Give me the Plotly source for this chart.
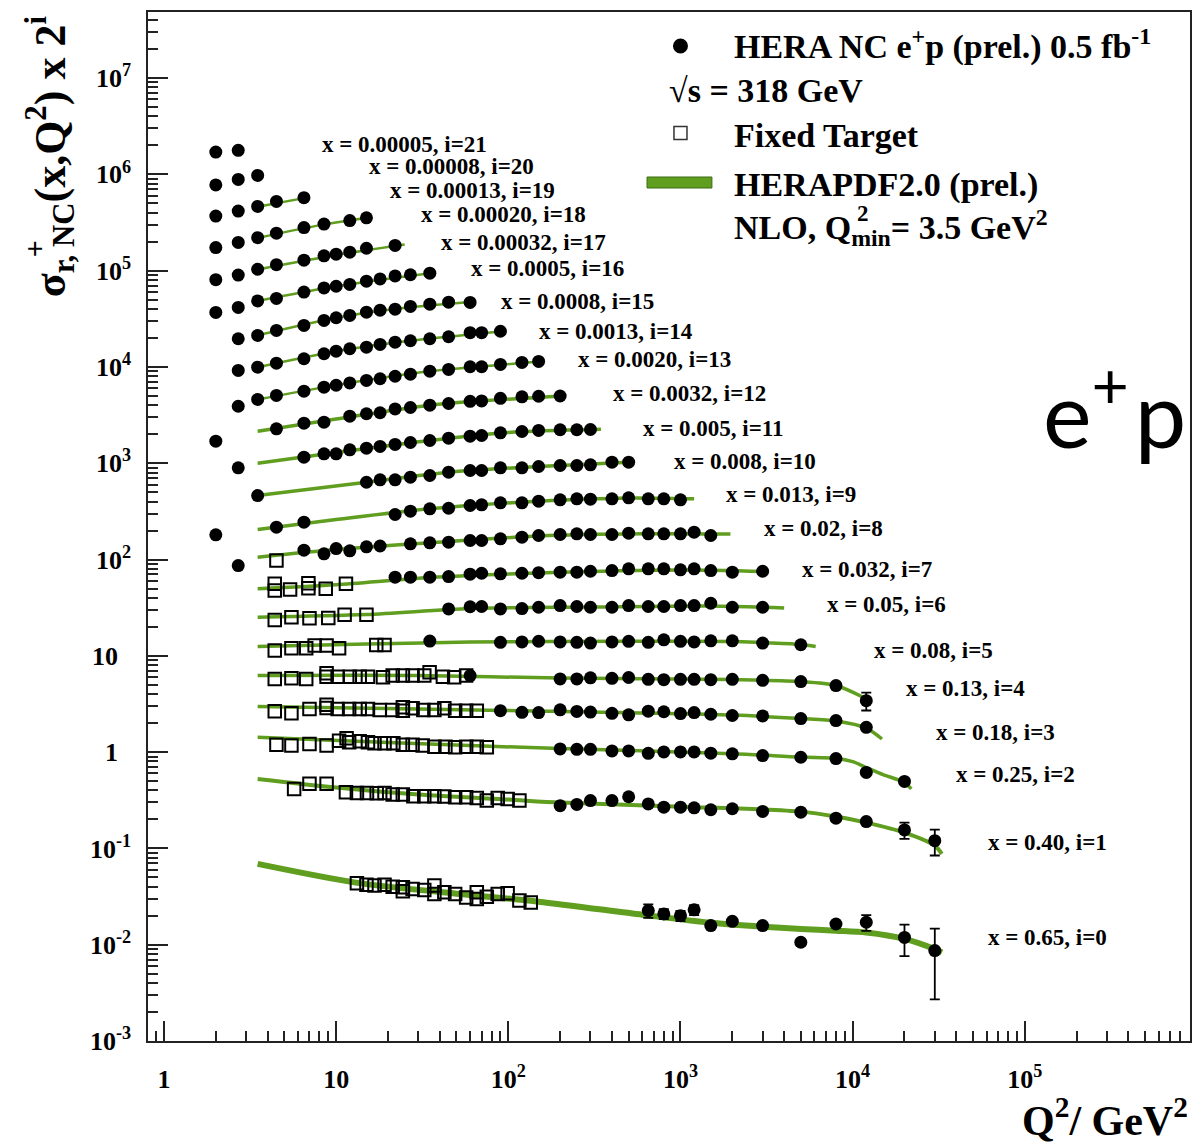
import plotly.graph_objects as go

# ---------------------------------------------------------------------------
# HERA NC e+p reduced cross sections, bin i is scaled by 2**i
# ---------------------------------------------------------------------------
x_bins = ["0.65", "0.40", "0.25", "0.18", "0.13", "0.08", "0.05", "0.032",
          "0.02", "0.013", "0.008", "0.005", "0.0032", "0.0020", "0.0013",
          "0.0008", "0.0005", "0.00032", "0.00020", "0.00013", "0.00008",
          "0.00005"]

# HERA combined data (Q2 in GeV^2, unscaled sigma_r), index = i
hera_q2 = [
    [650, 800, 1000, 1200, 1500, 2000, 3000, 5000, 8000, 12000, 20000, 30000],
    [200, 250, 300, 400, 500, 650, 800, 1000, 1200, 1500, 2000, 3000, 5000, 8000, 12000, 20000, 30000],
    [200, 250, 300, 400, 500, 650, 800, 1000, 1200, 1500, 2000, 3000, 5000, 8000, 12000, 20000],
    [90, 120, 150, 200, 250, 300, 400, 500, 650, 800, 1000, 1200, 1500, 2000, 3000, 5000, 8000, 12000],
    [60, 200, 250, 300, 400, 500, 650, 800, 1000, 1200, 1500, 2000, 3000, 5000, 8000, 12000],
    [35, 90, 120, 150, 200, 250, 300, 400, 500, 650, 800, 1000, 1200, 1500, 2000, 3000, 5000],
    [45, 60, 70, 90, 120, 150, 200, 250, 300, 400, 500, 650, 800, 1000, 1200, 1500, 2000, 3000],
    [22, 27, 35, 45, 60, 70, 90, 120, 150, 200, 250, 300, 400, 500, 650, 800, 1000, 1200, 1500, 2000, 3000],
    [2.7, 6.5, 8.5, 10, 12, 15, 18, 27, 35, 45, 60, 70, 90, 120, 150, 200, 250, 300, 400, 500, 650, 800, 1000, 1200, 1500],
    [2, 4.5, 6.5, 22, 27, 35, 45, 60, 70, 90, 120, 150, 200, 250, 300, 400, 500, 650, 800, 1000],
    [3.5, 15, 18, 22, 27, 35, 45, 60, 70, 90, 120, 150, 200, 250, 300, 400, 500],
    [2.7, 6.5, 8.5, 10, 12, 15, 18, 22, 27, 35, 45, 60, 70, 90, 120, 150, 200, 250, 300],
    [2, 4.5, 6.5, 8.5, 12, 15, 18, 22, 27, 35, 45, 60, 70, 90, 120, 150, 200],
    [2.7, 3.5, 4.5, 6.5, 8.5, 10, 12, 15, 18, 22, 27, 35, 45, 60, 70, 90, 120, 150],
    [2.7, 3.5, 4.5, 6.5, 8.5, 10, 12, 15, 18, 22, 27, 35, 45, 60, 70, 90],
    [2.7, 3.5, 4.5, 6.5, 8.5, 10, 12, 15, 18, 22, 27, 35, 45, 60],
    [2, 2.7, 3.5, 4.5, 6.5, 8.5, 10, 12, 15, 18, 22, 27, 35],
    [2, 2.7, 3.5, 4.5, 6.5, 8.5, 10, 12, 15, 22],
    [2, 2.7, 3.5, 4.5, 6.5, 8.5, 12, 15],
    [2, 2.7, 3.5, 4.5, 6.5],
    [2, 2.7, 3.5],
    [2, 2.7],
]
hera_sigma = [
    [0.0226, 0.0209, 0.0200, 0.0230, 0.0158, 0.0175, 0.0158, 0.0106, 0.0164, 0.0171, 0.0119, 0.0087],
    [0.139, 0.143, 0.157, 0.157, 0.172, 0.145, 0.134, 0.134, 0.132, 0.126, 0.129, 0.121, 0.119, 0.103, 0.0949, 0.0778, 0.0602],
    [0.270, 0.267, 0.267, 0.257, 0.257, 0.243, 0.251, 0.251, 0.251, 0.244, 0.240, 0.230, 0.221, 0.214, 0.154, 0.124],
    [0.337, 0.324, 0.322, 0.344, 0.331, 0.326, 0.316, 0.305, 0.333, 0.328, 0.314, 0.322, 0.309, 0.300, 0.297, 0.279, 0.266, 0.226],
    [0.390, 0.360, 0.360, 0.369, 0.365, 0.372, 0.356, 0.353, 0.356, 0.356, 0.353, 0.356, 0.348, 0.338, 0.307, 0.214],
    [0.445, 0.432, 0.436, 0.443, 0.436, 0.432, 0.424, 0.436, 0.442, 0.432, 0.458, 0.442, 0.436, 0.447, 0.447, 0.424, 0.407],
    [0.480, 0.505, 0.508, 0.480, 0.484, 0.499, 0.520, 0.508, 0.499, 0.499, 0.520, 0.508, 0.508, 0.520, 0.520, 0.549, 0.499, 0.499],
    [0.512, 0.512, 0.512, 0.520, 0.550, 0.563, 0.555, 0.563, 0.570, 0.577, 0.577, 0.590, 0.600, 0.625, 0.625, 0.625, 0.611, 0.625, 0.600, 0.577, 0.590],
    [0.338, 0.488, 0.448, 0.508, 0.481, 0.529, 0.540, 0.569, 0.582, 0.591, 0.616, 0.616, 0.641, 0.666, 0.694, 0.711, 0.722, 0.711, 0.711, 0.733, 0.722, 0.722, 0.722, 0.751, 0.694],
    [0.353, 0.423, 0.477, 0.573, 0.620, 0.657, 0.666, 0.711, 0.723, 0.758, 0.758, 0.788, 0.815, 0.834, 0.826, 0.834, 0.855, 0.834, 0.834, 0.815],
    [0.451, 0.620, 0.657, 0.657, 0.699, 0.728, 0.788, 0.821, 0.821, 0.876, 0.876, 0.903, 0.925, 0.925, 0.941, 1.001, 1.001],
    [0.438, 0.564, 0.612, 0.612, 0.673, 0.700, 0.729, 0.765, 0.802, 0.841, 0.889, 0.932, 0.948, 1.011, 1.043, 1.069, 1.087, 1.087, 1.094],
    [0.414, 0.556, 0.636, 0.652, 0.752, 0.797, 0.816, 0.894, 0.926, 0.979, 1.019, 1.074, 1.082, 1.154, 1.196, 1.211, 1.219],
    [0.477, 0.561, 0.617, 0.684, 0.753, 0.788, 0.832, 0.884, 0.920, 0.977, 1.027, 1.104, 1.149, 1.226, 1.226, 1.296, 1.359, 1.392],
    [0.561, 0.607, 0.668, 0.742, 0.837, 0.890, 0.943, 0.980, 1.045, 1.104, 1.142, 1.198, 1.256, 1.386, 1.386, 1.433],
    [0.599, 0.648, 0.730, 0.823, 0.928, 0.989, 1.045, 1.131, 1.187, 1.216, 1.297, 1.370, 1.437, 1.427],
    [0.562, 0.633, 0.740, 0.785, 0.913, 1.009, 1.051, 1.097, 1.185, 1.252, 1.345, 1.384, 1.438],
    [0.615, 0.686, 0.789, 0.881, 0.981, 1.088, 1.130, 1.188, 1.304, 1.394],
    [0.662, 0.749, 0.840, 0.934, 1.068, 1.161, 1.262, 1.350],
    [0.703, 0.792, 0.886, 0.999, 1.091],
    [0.741, 0.845, 0.930],
    [0.812, 0.846],
]

# Points with a visible uncertainty: bin index, Q2, error on sigma_r
err_bin = [0, 0, 0, 0, 0, 0, 0, 0, 1, 1, 4]
err_q2 = [650, 800, 1000, 1200, 5000, 12000, 20000, 30000, 20000, 30000, 12000]
err_sigma = [0.0036, 0.0025, 0.0024, 0.0027, 0.0008, 0.0032, 0.0043, 0.0060, 0.015, 0.018, 0.045]

# Fixed-target data (unscaled sigma_r), index = i
ft_q2 = [
    [13.2, 15.0, 16.7, 19.1, 21.3, 24.4, 24.4, 27.8, 32.5, 37.2, 37.2, 42.5, 49.1, 56.9, 65.6, 65.6, 75.0, 86.8, 99.1, 116, 135],
    [5.7, 7.0, 8.8, 11.4, 13.2, 15.1, 17.2, 19.1, 21.3, 24.4, 28.1, 32.5, 37.2, 42.5, 49.1, 56.9, 65.6, 75.0, 86.8, 99.1, 116],
    [4.5, 5.5, 7.0, 8.8, 10.4, 11.5, 11.9, 13.7, 15.3, 16.7, 19.1, 21.5, 24.4, 27.8, 31.8, 37.2, 43.1, 49.1, 56.9, 65.6, 75.0],
    [4.4, 5.5, 7.0, 8.8, 8.8, 10.2, 11.9, 13.7, 15.3, 17.9, 21.2, 24.4, 24.4, 27.8, 32.1, 37.2, 42.5, 49.1, 56.9, 65.6],
    [4.4, 5.5, 6.7, 8.8, 8.8, 10.2, 12.0, 13.7, 15.3, 18.7, 21.3, 24.4, 27.8, 32.5, 34.9, 41.7, 48.5, 56.9],
    [4.4, 5.5, 6.7, 7.5, 8.8, 10.4, 17.1, 19.1],
    [4.4, 5.5, 7.0, 9.0, 11.2, 15.0],
    [4.4, 4.4, 5.4, 6.9, 6.9, 8.7, 11.4],
    [4.5],
]
ft_sigma = [
    [0.0434, 0.0420, 0.0411, 0.0420, 0.0401, 0.0394, 0.0358, 0.0379, 0.0370, 0.0411, 0.0337, 0.0350, 0.0337, 0.0310, 0.0350, 0.0299, 0.0315, 0.0337, 0.0342, 0.0287, 0.0275],
    [0.207, 0.234, 0.234, 0.191, 0.188, 0.188, 0.187, 0.188, 0.181, 0.181, 0.174, 0.174, 0.174, 0.173, 0.170, 0.170, 0.167, 0.157, 0.167, 0.163, 0.157],
    [0.299, 0.292, 0.304, 0.292, 0.329, 0.348, 0.316, 0.324, 0.316, 0.309, 0.309, 0.309, 0.299, 0.299, 0.292, 0.285, 0.285, 0.281, 0.285, 0.285, 0.281],
    [0.332, 0.316, 0.351, 0.360, 0.387, 0.351, 0.351, 0.351, 0.351, 0.343, 0.343, 0.337, 0.365, 0.357, 0.343, 0.343, 0.357, 0.337, 0.337, 0.337],
    [0.360, 0.365, 0.360, 0.380, 0.412, 0.380, 0.380, 0.380, 0.380, 0.374, 0.390, 0.390, 0.390, 0.390, 0.422, 0.380, 0.374, 0.390],
    [0.354, 0.374, 0.374, 0.399, 0.399, 0.374, 0.406, 0.406],
    [0.369, 0.393, 0.384, 0.387, 0.416, 0.416],
    [0.437, 0.372, 0.381, 0.443, 0.393, 0.388, 0.437],
    [0.381],
]

# HERAPDF2.0 NLO prediction (unscaled sigma_r) sampled along Q2, index = i
curve_q2 = [
    [3.5, 13, 50, 150, 600, 1500, 3000, 5000, 8000, 12000, 20000, 30000, 33000],
    [3.5, 10, 30, 100, 200, 1000, 5000, 8000, 12000, 20000, 30000, 32950],
    [3.5, 20, 200, 2000, 5000, 8000, 10000, 12000, 15000, 20000, 21900],
    [3.5, 30, 300, 2000, 5000, 8000, 12000, 14800],
    [3.5, 30, 200, 2000, 5000, 8000, 11500],
    [3.5, 15, 60, 500, 2000, 3000, 5000, 6100],
    [3.5, 15, 60, 300, 1500, 4000],
    [3.5, 10, 35, 150, 1000, 3150],
    [3.5, 10, 35, 150, 600, 1950],
    [3.5, 10, 35, 150, 500, 1200],
    [3.5, 15, 45, 150, 535],
    [3.5, 10, 35, 100, 345],
    [3.5, 10, 35, 210],
    [3.5, 10, 35, 155],
    [3.5, 10, 27, 95],
    [3.5, 10, 22, 62],
    [3.5, 10, 38],
    [3.5, 10, 25],
    [3.5, 8.5, 15],
    [3.5, 6.5],
    [],
    [],
]
curve_sigma = [
    [0.0690, 0.0441, 0.0339, 0.0280, 0.0205, 0.0169, 0.0154, 0.0146, 0.0140, 0.0134, 0.0115, 0.0090, 0.0083],
    [0.2635, 0.214, 0.181, 0.1606, 0.1495, 0.1358, 0.1205, 0.107, 0.0926, 0.0729, 0.0534, 0.0438],
    [0.356, 0.314, 0.272, 0.241, 0.222, 0.216, 0.199, 0.173, 0.146, 0.121, 0.104],
    [0.371, 0.350, 0.326, 0.303, 0.279, 0.263, 0.222, 0.171],
    [0.390, 0.390, 0.367, 0.354, 0.338, 0.307, 0.232],
    [0.390, 0.414, 0.434, 0.442, 0.441, 0.428, 0.410, 0.390],
    [0.393, 0.419, 0.484, 0.501, 0.514, 0.490],
    [0.388, 0.427, 0.508, 0.566, 0.608, 0.586],
    [0.413, 0.496, 0.582, 0.686, 0.722, 0.719],
    [0.400, 0.508, 0.657, 0.788, 0.851, 0.833],
    [0.451, 0.620, 0.788, 0.903, 1.005],
    [0.489, 0.631, 0.841, 1.019, 1.100],
    [0.525, 0.703, 0.979, 1.220],
    [0.56, 0.79, 1.10, 1.39],
    [0.607, 0.89, 1.14, 1.43],
    [0.65, 0.99, 1.22, 1.45],
    [0.74, 1.05, 1.46],
    [0.786, 1.111, 1.428],
    [0.834, 1.153, 1.347],
    [0.88, 1.08],
    [],
    [],
]

# Bin label anchors (log10 Q2, log10 of scaled sigma), index = i
label_logq2 = [4.777, 4.777, 4.591, 4.470, 4.296, 4.110, 3.838, 3.693, 3.472, 3.252,
               2.951, 2.771, 2.597, 2.394, 2.168, 1.948, 1.774, 1.600, 1.484, 1.299,
               1.177, 0.904]
label_logy = [-1.928, -0.941, -0.235, 0.201, 0.658, 1.053, 1.531, 1.895, 2.321, 2.674,
              3.017, 3.360, 3.724, 4.077, 4.368, 4.680, 5.023, 5.293, 5.584, 5.833,
              6.082, 6.311]

# ---------------------------------------------------------------------------
W, H = 1194, 1143
ML, MR, MT, MB = 148, 2, 12, 102
PW, PH = W - ML - MR, H - MT - MB
GREEN = "#5f9e1f"
SERIF = "Liberation Serif"


def px(xp):
    return (xp - ML) / PW


def py(yp):
    return (H - MB - yp) / PH


fig = go.Figure()

# prediction bands first, data on top
for i in range(22):
    if not curve_q2[i]:
        continue
    s = 2.0 ** i
    width = 6 if i == 0 else (4 if i == 1 else (3.5 if i <= 12 else 2.5))
    fig.add_trace(go.Scatter(
        x=curve_q2[i], y=[v * s for v in curve_sigma[i]], mode="lines",
        line=dict(color=GREEN, width=width, shape="spline", smoothing=0.8),
        hoverinfo="skip", showlegend=False))

for i in range(len(ft_q2)):
    s = 2.0 ** i
    fig.add_trace(go.Scatter(
        x=ft_q2[i], y=[v * s for v in ft_sigma[i]], mode="markers",
        marker=dict(symbol="square-open", size=12.5, color="black",
                    line=dict(width=2, color="black")),
        showlegend=False))

for i in range(22):
    s = 2.0 ** i
    errs = [None] * len(hera_q2[i])
    for b, q, e in zip(err_bin, err_q2, err_sigma):
        if b == i:
            errs[hera_q2[i].index(q)] = e * s
    fig.add_trace(go.Scatter(
        x=hera_q2[i], y=[v * s for v in hera_sigma[i]], mode="markers",
        marker=dict(symbol="circle", size=13, color="black"),
        error_y=dict(type="data", array=errs, visible=True, color="black",
                     thickness=1.8, width=5),
        showlegend=False))

# bin labels
ann = []
for i in range(22):
    ann.append(dict(
        text=f"x = {x_bins[i]}, i={i}", x=label_logq2[i], y=label_logy[i],
        xref="x", yref="y", xanchor="left", yanchor="middle", showarrow=False,
        font=dict(family=SERIF, size=23, color="black", weight="bold")))

# legend block
leg_font = dict(family=SERIF, size=34, color="black", weight="bold")
for txt, xx, yy in [
    ("HERA NC e<sup>+</sup>p (prel.) 0.5 fb<sup>-1</sup>", 733, 45),
    ("\u221as = 318 GeV", 668, 90),
    ("Fixed Target", 733, 135),
    ("HERAPDF2.0 (prel.)", 733, 185),
    ("NLO, Q<sub>min</sub>= 3.5 GeV<sup>2</sup>", 733, 228),
]:
    ann.append(dict(text=txt, x=px(xx), y=py(yy), xref="paper", yref="paper",
                    xanchor="left", yanchor="middle", showarrow=False, font=leg_font))
ann.append(dict(text="2", x=px(856), y=py(213), xref="paper", yref="paper",
                xanchor="left", yanchor="middle", showarrow=False,
                font=dict(family=SERIF, size=23, color="black", weight="bold")))

# axis titles
ann.append(dict(text="Q<sup>2</sup>/ GeV<sup>2</sup>", x=px(1192), y=py(1117),
                xref="paper", yref="paper", xanchor="right", yanchor="middle",
                showarrow=False, font=dict(family=SERIF, size=42, color="black", weight="bold")))
ann.append(dict(text="\u03c3<sub>r, NC</sub>(x,Q<sup>2</sup>) x 2<sup>i</sup>",
                x=px(50), y=py(156), xref="paper", yref="paper", textangle=-90,
                xanchor="center", yanchor="middle", showarrow=False,
                font=dict(family=SERIF, size=44, color="black", weight="bold")))
ann.append(dict(text="+", x=px(34), y=py(249), xref="paper", yref="paper", textangle=-90,
                xanchor="center", yanchor="middle", showarrow=False,
                font=dict(family=SERIF, size=30, color="black", weight="bold")))

# big process tag
ann.append(dict(text="e<sup>+</sup>\u200ap", x=px(1043), y=py(407), xref="paper", yref="paper",
                xanchor="left", yanchor="middle", showarrow=False,
                font=dict(family="Lato", size=92, color="black")))

shapes = [
    dict(type="circle", xref="paper", yref="paper", xsizemode="pixel", ysizemode="pixel",
         xanchor=px(681.5), yanchor=py(46), x0=-7.5, x1=7.5, y0=-7.5, y1=7.5,
         fillcolor="black", line=dict(width=0)),
    dict(type="rect", xref="paper", yref="paper", xsizemode="pixel", ysizemode="pixel",
         xanchor=px(681.5), yanchor=py(133), x0=-6.5, x1=6.5, y0=-6.5, y1=6.5,
         fillcolor="rgba(0,0,0,0)", line=dict(width=1.5, color="#333")),
    dict(type="rect", xref="paper", yref="paper", x0=px(648), x1=px(713),
         y0=py(188), y1=py(177), fillcolor=GREEN, line=dict(width=1, color="#3d6a12")),
]

x_minor = [k * 10.0 ** d for d in range(-1, 6) for k in range(2, 10)
           if 0.81 <= k * 10.0 ** d <= 9.0e5]
y_minor = [k * 10.0 ** d for d in range(-3, 8) for k in range(2, 10)
           if k * 10.0 ** d <= 4.8e7]

tick_font = dict(family=SERIF, size=26, color="black", weight="bold")
axis_common = dict(type="log", showgrid=False, zeroline=False, showline=True,
                   linecolor="#222", linewidth=1.5, mirror=True, ticks="inside",
                   ticklen=20, tickwidth=1.5, tickcolor="#222", tickfont=tick_font)

fig.update_layout(
    width=W, height=H, margin=dict(l=ML, r=MR, t=MT, b=MB),
    paper_bgcolor="white", plot_bgcolor="white", showlegend=False,
    annotations=ann, shapes=shapes,
    xaxis=dict(**axis_common, range=[-0.0928, 5.9594],
               tickmode="array", tickvals=[1, 10, 100, 1e3, 1e4, 1e5],
               ticktext=["1", "10", "10<sup>2</sup>", "10<sup>3</sup>",
                         "10<sup>4</sup>", "10<sup>5</sup>"],
               ticklabelstandoff=14,
               minor=dict(tickmode="array", tickvals=x_minor, ticks="inside",
                          ticklen=10, tickwidth=1.5, tickcolor="#222", showgrid=False)),
    yaxis=dict(**axis_common, range=[-3, 7.686],
               tickmode="array", tickvals=[1e-3, 1e-2, 1e-1, 1, 10, 1e2, 1e3, 1e4, 1e5, 1e6, 1e7],
               ticktext=["10<sup>-3</sup>", "10<sup>-2</sup>", "10<sup>-1</sup>",
                         "1\u2002", "10\u2002", "10<sup>2</sup>", "10<sup>3</sup>",
                         "10<sup>4</sup>", "10<sup>5</sup>", "10<sup>6</sup>", "10<sup>7</sup>"],
               ticklabelstandoff=10,
               minor=dict(tickmode="array", tickvals=y_minor, ticks="inside",
                          ticklen=10, tickwidth=1.5, tickcolor="#222", showgrid=False)),
)

fig.write_html("out.html")
